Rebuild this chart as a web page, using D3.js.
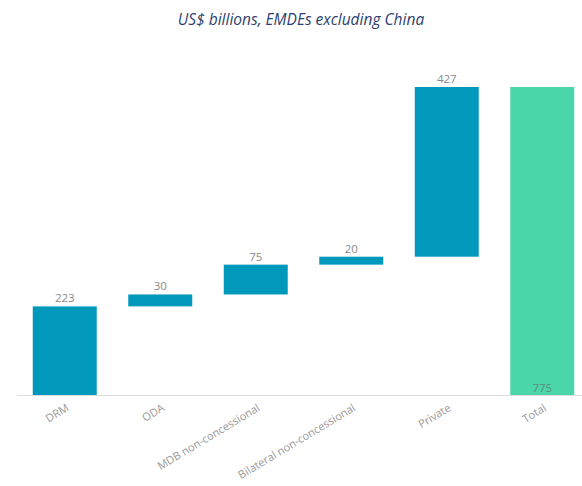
<!DOCTYPE html>
<html>
<head>
<meta charset="utf-8">
<script src="https://cdn.jsdelivr.net/npm/d3@7"></script>
<style>
  body { margin: 0; background: #fff; }
  svg { display: block; font-family: "Open Sans", "Noto Sans", sans-serif; }
</style>
</head>
<body>
<div id="chart"></div>
<script>
// waterfall: financing sources, US$ bn
const categories = ['DRM', 'ODA', 'MDB non-concessional', 'Bilateral non-concessional', 'Private', 'Total'];
const values = [223, 30, 75, 20, 427, 775];
const isTotal = [false, false, false, false, false, true];

const W = 582, H = 486;
const M = { top: 87, right: -8, bottom: 91, left: 17 };
const innerW = W - M.left - M.right, innerH = H - M.top - M.bottom;

const svg = d3.select('#chart').append('svg').attr('width', W).attr('height', H);
const g = svg.append('g').attr('transform', `translate(${M.left},${M.top})`);

// running start/end for each step
let run = 0;
const steps = categories.map((c, i) => {
  if (isTotal[i]) return { cat: c, v: values[i], y0: 0, y1: values[i], total: true };
  const s = { cat: c, v: values[i], y0: run, y1: run + values[i], total: false };
  run += values[i];
  return s;
});

const x = d3.scaleBand().domain(categories).range([0, innerW]).paddingInner(0.33).paddingOuter(0.165);
const y = d3.scaleLinear().domain([0, 775]).range([innerH, 0]);

svg.append('text')
  .attr('x', 301).attr('y', 25).attr('text-anchor', 'middle')
  .attr('font-size', 15.5).attr('font-style', 'italic')
  .attr('fill', '#2d3f6e')
  .text('US$ billions, EMDEs excluding China');

g.selectAll('rect.bar').data(steps).join('rect')
  .attr('class', 'bar')
  .attr('x', d => x(d.cat)).attr('width', x.bandwidth())
  .attr('y', d => y(d.y1)).attr('height', d => y(d.y0) - y(d.y1))
  .attr('fill', d => d.total ? '#4ad6aa' : '#0099bb');

g.selectAll('text.val').data(steps).join('text')
  .attr('class', 'val')
  .attr('x', d => x(d.cat) + x.bandwidth() / 2)
  .attr('y', d => d.total ? y(0) - 3 : y(d.y1) - 4)
  .attr('text-anchor', 'middle')
  .attr('font-size', 11.5)
  .attr('fill', d => d.total ? '#5a8f80' : '#8a8a8a')
  .text(d => d.v);

// baseline
g.append('line')
  .attr('x1', 0).attr('x2', W - M.left)
  .attr('y1', y(0) + 0.5).attr('y2', y(0) + 0.5)
  .attr('stroke', '#dcdcdc').attr('stroke-width', 1);

const xAxis = g.append('g').attr('transform', `translate(0,${innerH})`)
  .call(d3.axisBottom(x).tickSize(0).tickPadding(0));
xAxis.select('.domain').remove();
xAxis.selectAll('text')
  .attr('font-family', '"Open Sans", "Noto Sans", sans-serif')
  .attr('font-size', 11)
  .attr('fill', '#999')
  .attr('text-anchor', 'end')
  .attr('dy', 0)
  .attr('transform', 'translate(5,15) rotate(-31)');
</script>
</body>
</html>
